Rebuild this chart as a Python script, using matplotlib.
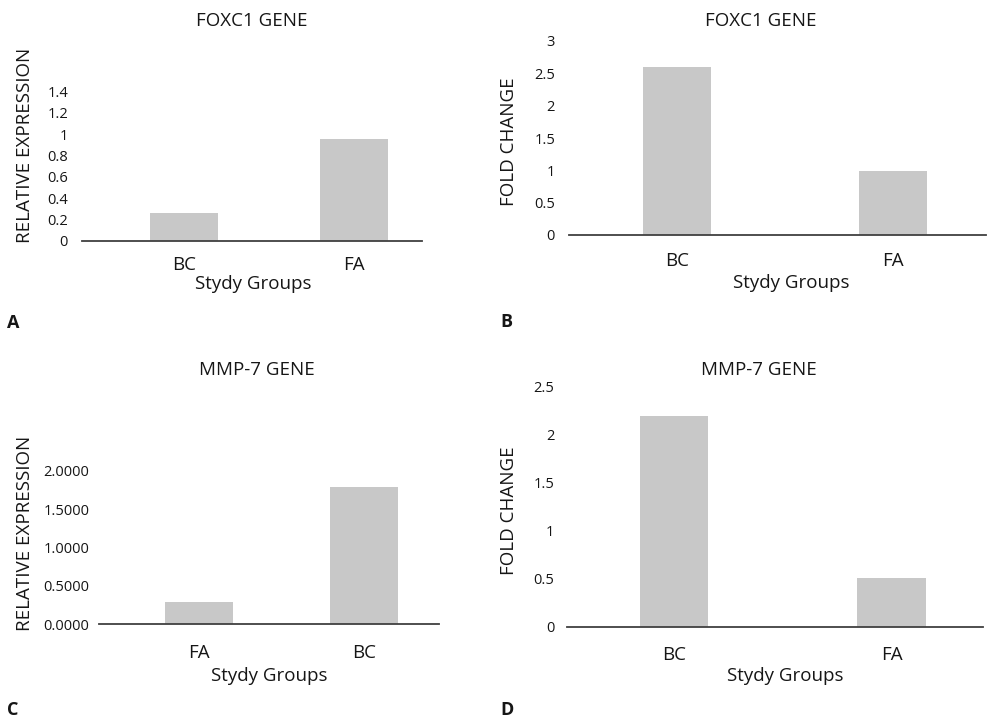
import matplotlib
matplotlib.use("Agg")
import matplotlib.pyplot as plt

plt.rcParams['font.family'] = ['Open Sans', 'DejaVu Sans']

W, H = 988, 723

# panel data
foxc1_rel_groups = ['BC', 'FA']
foxc1_rel_values = [0.26, 0.955]
foxc1_rel_ticks = [0, 0.2, 0.4, 0.6, 0.8, 1, 1.2, 1.4]
foxc1_rel_ticklabels = ['0', '0.2', '0.4', '0.6', '0.8', '1', '1.2', '1.4']

foxc1_fold_groups = ['BC', 'FA']
foxc1_fold_values = [2.6, 0.99]
foxc1_fold_ticks = [0, 0.5, 1, 1.5, 2, 2.5, 3]
foxc1_fold_ticklabels = ['0', '0.5', '1', '1.5', '2', '2.5', '3']

mmp7_rel_groups = ['FA', 'BC']
mmp7_rel_values = [0.29, 1.79]
mmp7_rel_ticks = [0, 0.5, 1, 1.5, 2]
mmp7_rel_ticklabels = ['0.0000', '0.5000', '1.0000', '1.5000', '2.0000']

mmp7_fold_groups = ['BC', 'FA']
mmp7_fold_values = [2.2, 0.51]
mmp7_fold_ticks = [0, 0.5, 1, 1.5, 2, 2.5]
mmp7_fold_ticklabels = ['0', '0.5', '1', '1.5', '2', '2.5']

BAR = '#c8c8c8'
TXT = '#161616'
AXC = '#404040'
FS = 13.5

fig = plt.figure(figsize=(W / 100, H / 100), dpi=100)


def fx(px):
    return px / W


def fy(py):
    return 1 - py / H


def panel(box, groups, values, ticks, ticklabels, xlim, width, ylabel,
          title, title_xy, ylabel_xy, xlabel_xy, letter, letter_xy, ypad, xpad):
    # box = (left, top, right, bottom) in pixels
    l, t, r, b = box
    ax = fig.add_axes([fx(l), fy(b), fx(r) - fx(l), fy(t) - fy(b)])
    x = list(range(len(groups)))
    ax.bar(x, values, width=width, color=BAR, zorder=2)
    ax.set_xlim(*xlim)
    ax.set_ylim(ticks[0], ticks[-1])
    ax.set_yticks(ticks)
    ax.set_yticklabels(ticklabels)
    ax.set_xticks(x)
    ax.set_xticklabels(groups)
    for s in ['top', 'right', 'left']:
        ax.spines[s].set_visible(False)
    ax.spines['bottom'].set_color(AXC)
    ax.spines['bottom'].set_linewidth(1.3)
    ax.spines['bottom'].set_zorder(3)
    ax.tick_params(axis='y', length=0, pad=ypad, labelsize=10.5, colors=TXT)
    ax.tick_params(axis='x', length=0, pad=xpad, labelsize=FS, colors=TXT)
    ax.patch.set_alpha(0)

    fig.text(fx(title_xy[0]), fy(title_xy[1]), title, ha='center', va='center',
             fontsize=FS, color=TXT)
    fig.text(fx(ylabel_xy[0]), fy(ylabel_xy[1]), ylabel, ha='center', va='center',
             rotation=90, fontsize=FS, color=TXT)
    fig.text(fx(xlabel_xy[0]), fy(xlabel_xy[1]), 'Stydy Groups', ha='center',
             va='center', fontsize=FS, color=TXT)
    fig.text(fx(letter_xy[0]), fy(letter_xy[1]), letter, ha='left', va='center',
             fontsize=13, fontweight='bold', color=TXT)
    return ax


panel((82, 91.5, 422, 241), foxc1_rel_groups, foxc1_rel_values,
      foxc1_rel_ticks, foxc1_rel_ticklabels, (-0.6, 1.4), 0.4,
      'RELATIVE EXPRESSION', 'FOXC1 GENE', (252, 21), (25, 145),
      (253, 284), 'A', (7, 323), 10, 11)

panel((569, 41, 986, 235), foxc1_fold_groups, foxc1_fold_values,
      foxc1_fold_ticks, foxc1_fold_ticklabels, (-0.5, 1.43), 0.315,
      'FOLD CHANGE', 'FOXC1 GENE', (761, 21), (509, 142),
      (791, 283), 'B', (500, 322), 10, 12)

panel((99, 471, 439, 624), mmp7_rel_groups, mmp7_rel_values,
      mmp7_rel_ticks, mmp7_rel_ticklabels, (-0.6, 1.45), 0.41,
      'RELATIVE EXPRESSION', 'MMP-7 GENE', (257, 370), (25, 533),
      (269, 676), 'C', (7, 710), 7, 14.5)

panel((567, 387, 983, 627), mmp7_fold_groups, mmp7_fold_values,
      mmp7_fold_ticks, mmp7_fold_ticklabels, (-0.49, 1.42), 0.313,
      'FOLD CHANGE', 'MMP-7 GENE', (759, 370), (509, 511),
      (785, 676), 'D', (500, 710), 9, 13.5)

fig.savefig('out.png', dpi=100)
